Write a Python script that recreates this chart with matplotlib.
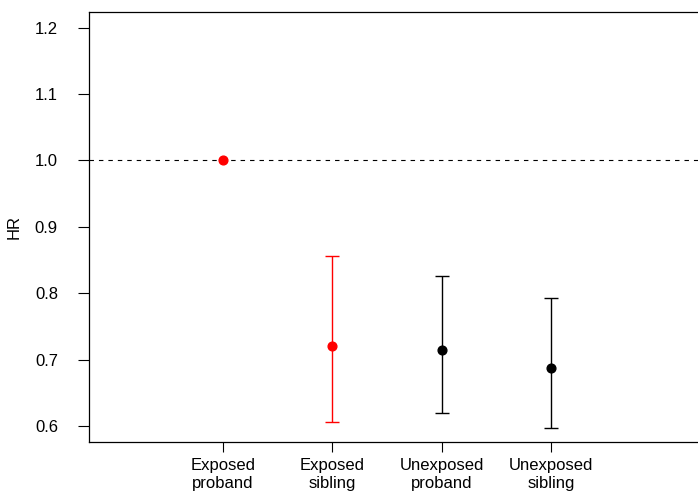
import numpy as np
import matplotlib
matplotlib.use("Agg")
import matplotlib.pyplot as plt

plt.rcParams["font.family"] = ["Liberation Sans", "DejaVu Sans"]

# hazard ratios with 95% CI, proband of exposed group is the reference
groups = ["Exposed\nproband", "Exposed\nsibling", "Unexposed\nproband", "Unexposed\nsibling"]
hr = [1.0, 0.720, 0.715, 0.688]
lower = [np.nan, 0.606, 0.620, 0.597]
upper = [np.nan, 0.856, 0.826, 0.793]
colors = ["red", "red", "black", "black"]
yticks = [0.6, 0.7, 0.8, 0.9, 1.0, 1.1, 1.2]

fig = plt.figure(figsize=(6.98, 4.92), dpi=100)
W, H = 698, 492
# plot region runs off the right edge of the device
ax = fig.add_axes([88.5 / W, (H - 441.7) / H, (795 - 88.5) / W, (441.7 - 11.7) / H])

x = np.arange(1, len(groups) + 1)
for xi, h, lo, up, c in zip(x, hr, lower, upper, colors):
    if not np.isnan(lo):
        ax.errorbar(xi, h, yerr=[[h - lo], [up - h]], fmt="none", ecolor=c,
                    elinewidth=1.0, capsize=4.7, capthick=1.0)
    ax.plot(xi, h, "o", color=c, markersize=6.3, zorder=3)

ax.axhline(1.0, color="black", lw=0.8, dashes=(4, 4.5))

ax.set_xlim(-0.232, 6.232)
ax.set_ylim(0.5764, 1.2241)
ax.set_yticks(yticks)
ax.set_yticklabels([f"{v:.1f}" for v in yticks])
ax.set_xticks(x)
ax.set_xticklabels(groups, linespacing=1.25)
ax.set_ylabel("HR", fontsize=12)
ax.yaxis.set_label_coords(-0.094, 0.5)

ax.tick_params(axis="y", length=8, width=0.8, pad=14, labelsize=12)
ax.tick_params(axis="x", length=7.5, width=0.8, pad=4.5, labelsize=12)
for s in ax.spines.values():
    s.set_linewidth(0.9)

fig.savefig("out.png", dpi=100)
